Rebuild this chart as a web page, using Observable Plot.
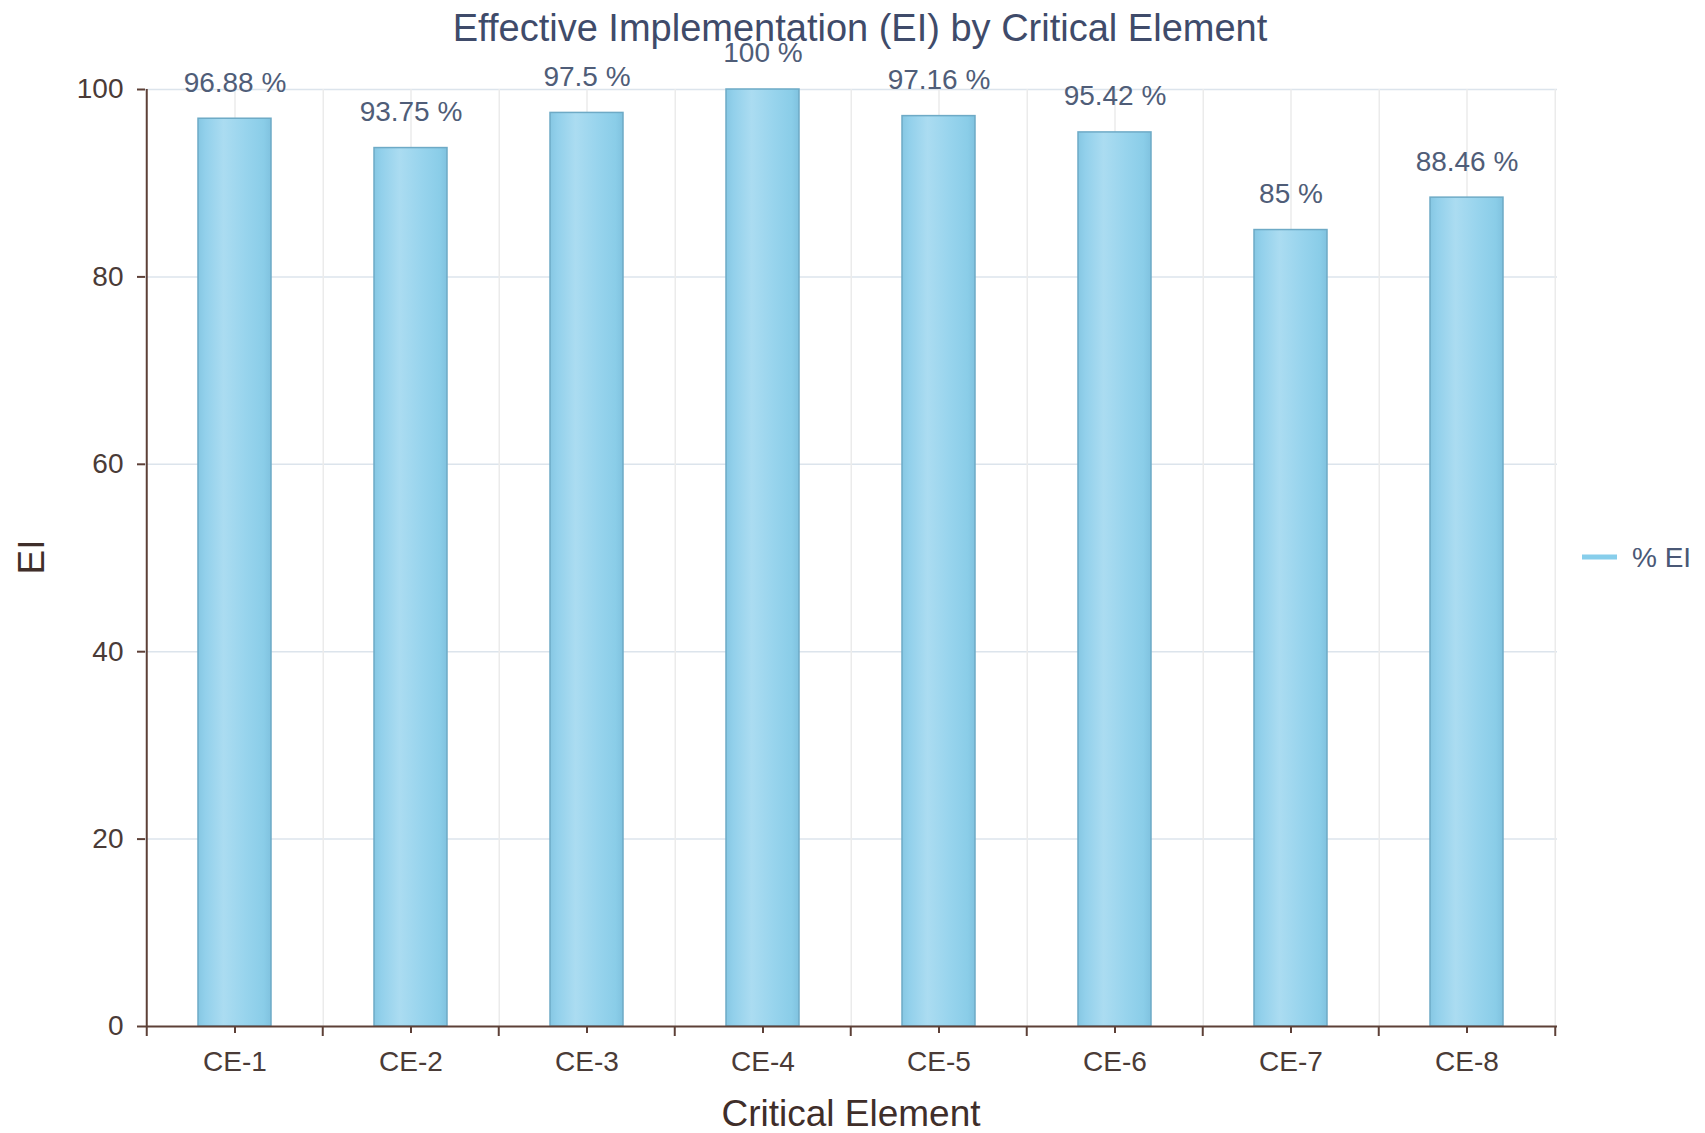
<!DOCTYPE html>
<html>
<head>
<meta charset="utf-8">
<script src="https://cdn.jsdelivr.net/npm/d3@7"></script>
<script src="https://cdn.jsdelivr.net/npm/@observablehq/plot@0.6"></script>
<style>
  html, body { margin: 0; padding: 0; background: #ffffff; }
  #chart { width: 1705px; height: 1133px; }
</style>
</head>
<body>
<div id="chart"></div>
<script>
// ---- data ----
const categories = ["CE-1", "CE-2", "CE-3", "CE-4", "CE-5", "CE-6", "CE-7", "CE-8"];
const eiValues = [96.88, 93.75, 97.5, 100, 97.16, 95.42, 85, 88.46];
const yTicks = [0, 20, 40, 60, 80, 100];
const titleText = "Effective Implementation (EI) by Critical Element";
const xLabelText = "Critical Element";
const yLabelText = "EI";
const seriesName = "% EI";

const data = categories.map((c, i) => ({ce: c, ei: eiValues[i]}));

// ---- layout / style ----
const W = 1705, H = 1133;
const ML = 145, MR = 148, MT = 89, MB = 107;
const step = (W - ML - MR) / categories.length;
const FONT = "'Liberation Sans', Arial, Helvetica, sans-serif";
const AXIS = "#5d4037";
const TICKTXT = "#4a3b37";
const LABELTXT = "#4f5d78";
const TITLETXT = "#3f4b6a";

const svg = Plot.plot({
  width: W,
  height: H,
  marginLeft: ML,
  marginRight: MR,
  marginTop: MT,
  marginBottom: MB,
  style: {fontFamily: FONT, background: "#ffffff", overflow: "visible"},
  x: {domain: categories, paddingInner: 0.585, paddingOuter: 0.2925, align: 0.5, axis: null},
  y: {domain: [0, 100], axis: null},
  marks: [
    // horizontal gridlines
    Plot.ruleY(yTicks.filter(t => t > 0), {stroke: "#dce4ec", strokeWidth: 1.5}),
    // vertical gridlines at band centers and band boundaries
    Plot.ruleX(categories, {x: d => d, stroke: "#ebebeb", strokeWidth: 1.5}),
    Plot.ruleX(categories, {x: d => d, dx: step / 2, stroke: "#ebebeb", strokeWidth: 1.5}),
    // bars
    Plot.barY(data, {x: "ce", y: "ei", fill: "url(#barGrad)", stroke: "#6eaac6", strokeWidth: 1.5}),
    // axis lines
    Plot.ruleY([0], {stroke: AXIS, strokeWidth: 2}),
    Plot.ruleX([categories[0]], {x: d => d, dx: -step / 2, stroke: AXIS, strokeWidth: 2}),
    // boundary ticks on x axis
    Plot.ruleX(categories, {x: d => d, y1: 0, y2: 0, dx: -step / 2, insetBottom: -10, stroke: AXIS, strokeWidth: 2}),
    Plot.ruleX([categories[categories.length - 1]], {x: d => d, y1: 0, y2: 0, dx: step / 2, insetBottom: -10, stroke: AXIS, strokeWidth: 2}),
    // axes
    Plot.axisX({tickSize: 7, tickPadding: 18, fontSize: 28, stroke: AXIS, strokeWidth: 2, color: TICKTXT, label: null}),
    Plot.axisY({ticks: yTicks, tickSize: 8, tickPadding: 14, fontSize: 28, stroke: AXIS, strokeWidth: 2, color: TICKTXT, label: null}),
    // value labels
    Plot.text(data, {x: "ce", y: "ei", text: d => `${d.ei} %`, dy: -36, lineAnchor: "middle", fontSize: 28, fill: LABELTXT})
  ]
});

const root = d3.select(svg);
const defs = root.insert("defs", ":first-child");
const grad = defs.append("linearGradient").attr("id", "barGrad").attr("x1", "0").attr("x2", "1").attr("y1", "0").attr("y2", "0");
[["0%", "#86c7e3"], ["10%", "#92d0eb"], ["35%", "#abdcf1"], ["65%", "#98d4ed"], ["90%", "#8acde8"], ["100%", "#80c2df"]]
  .forEach(([o, c]) => grad.append("stop").attr("offset", o).attr("stop-color", c));

// title
root.append("text").text(titleText)
  .attr("x", 860).attr("y", 41).attr("text-anchor", "middle")
  .attr("font-size", 38).attr("fill", TITLETXT).attr("font-family", FONT);
// x label
root.append("text").text(xLabelText)
  .attr("x", ML + (W - ML - MR) / 2).attr("y", 1126).attr("text-anchor", "middle")
  .attr("font-size", 37).attr("fill", "#3f2e2a").attr("font-family", FONT);
// y label
root.append("text").text(yLabelText)
  .attr("transform", "translate(44,557) rotate(-90)").attr("text-anchor", "middle")
  .attr("font-size", 37).attr("fill", "#3f2e2a").attr("font-family", FONT);
// legend
root.append("line").attr("x1", 1582).attr("x2", 1617).attr("y1", 557).attr("y2", 557)
  .attr("stroke", "#87ceeb").attr("stroke-width", 5);
root.append("text").text(seriesName)
  .attr("x", 1632).attr("y", 567).attr("text-anchor", "start")
  .attr("font-size", 28).attr("fill", "#4a5876").attr("font-family", FONT);

document.getElementById("chart").appendChild(svg);
</script>
</body>
</html>
